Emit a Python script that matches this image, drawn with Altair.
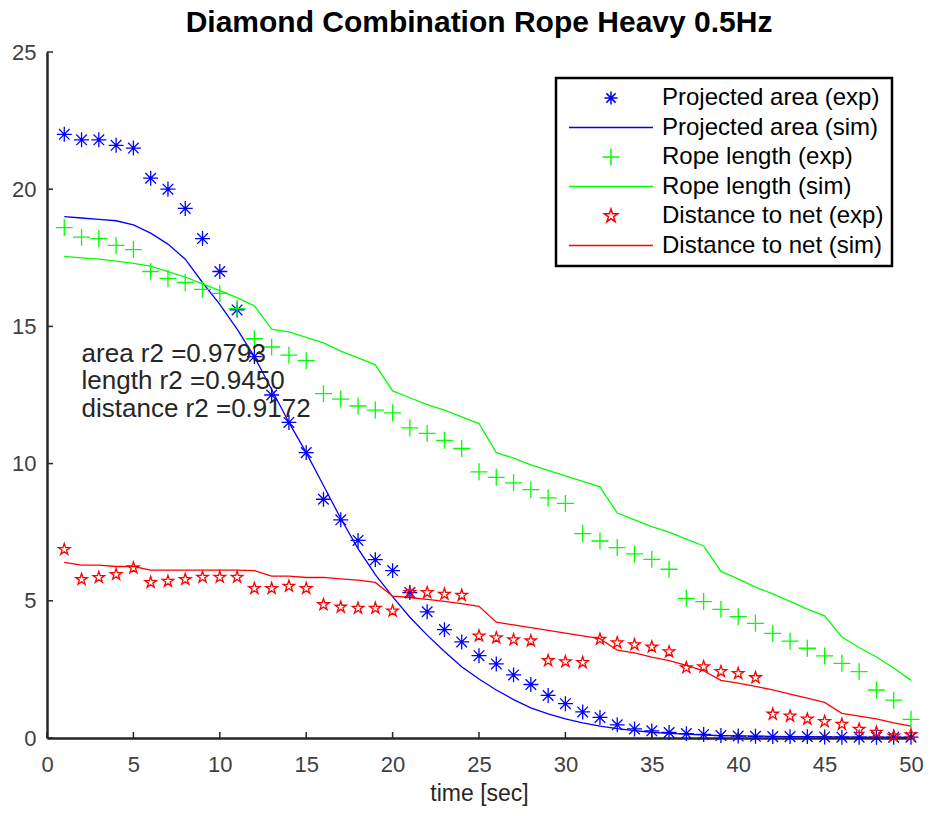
import altair as alt
import pandas as pd

time_s = [1, 2, 3, 4, 5, 6, 7, 8, 9, 10, 11, 12, 13, 14, 15, 16, 17, 18, 19, 20,
          21, 22, 23, 24, 25, 26, 27, 28, 29, 30, 31, 32, 33, 34, 35, 36, 37, 38, 39, 40,
          41, 42, 43, 44, 45, 46, 47, 48, 49, 50]

area_exp = [22.0, 21.8, 21.8, 21.6, 21.5, 20.4, 20.0, 19.3, 18.2, 17.0,
            15.6, 13.9, 12.5, 11.5, 10.4, 8.7, 7.95, 7.2, 6.5, 6.1,
            5.3, 4.6, 3.95, 3.5, 3.0, 2.7, 2.3, 1.95, 1.55, 1.25,
            0.95, 0.75, 0.48, 0.33, 0.26, 0.2, 0.16, 0.13, 0.09, 0.07,
            0.06, 0.05, 0.05, 0.05, 0.04, 0.03, 0.03, 0.03, 0.03, 0.03]
area_sim = [19.0, 18.95, 18.9, 18.85, 18.7, 18.4, 18.0, 17.45, 16.6, 15.8,
            14.9, 13.9, 12.7, 11.5, 10.4, 9.2, 8.0, 6.9, 5.95, 5.15,
            4.4, 3.75, 3.15, 2.6, 2.15, 1.75, 1.4, 1.1, 0.88, 0.7,
            0.55, 0.43, 0.34, 0.27, 0.21, 0.17, 0.14, 0.11, 0.09, 0.08,
            0.07, 0.06, 0.05, 0.05, 0.04, 0.04, 0.03, 0.03, 0.03, 0.02]
length_exp = [18.6, 18.25, 18.2, 17.95, 17.8, 17.0, 16.75, 16.6, 16.35, 16.2,
              15.65, 14.55, 14.25, 13.95, 13.75, 12.55, 12.35, 12.1, 11.95, 11.85,
              11.3, 11.1, 10.85, 10.55, 9.7, 9.5, 9.3, 9.05, 8.75, 8.55,
              7.45, 7.18, 6.94, 6.71, 6.51, 6.15, 5.09, 4.97, 4.69, 4.42,
              4.18, 3.81, 3.53, 3.27, 2.99, 2.72, 2.42, 1.75, 1.38, 0.68]
length_sim = [17.55, 17.5, 17.45, 17.38, 17.3, 17.2, 17.0, 16.8, 16.55, 16.3,
              16.05, 15.75, 14.9, 14.8, 14.6, 14.4, 14.1, 13.85, 13.6, 12.65,
              12.4, 12.15, 11.95, 11.7, 11.46, 10.4, 10.2, 9.95, 9.75, 9.55,
              9.35, 9.15, 8.2, 7.95, 7.7, 7.5, 7.25, 7.0, 6.07, 5.8,
              5.5, 5.25, 4.98, 4.7, 4.45, 3.68, 3.3, 2.95, 2.55, 2.1]
dist_exp = [6.87, 5.78, 5.85, 5.96, 6.2, 5.67, 5.71, 5.78, 5.86, 5.86,
            5.86, 5.45, 5.45, 5.53, 5.45, 4.86, 4.77, 4.73, 4.73, 4.63,
            5.3, 5.3, 5.24, 5.2, 3.72, 3.65, 3.58, 3.54, 2.82, 2.78,
            2.75, 3.6, 3.47, 3.4, 3.32, 3.14, 2.56, 2.6, 2.42, 2.35,
            2.2, 0.87, 0.8, 0.69, 0.6, 0.5, 0.32, 0.21, 0.07, 0.12]
dist_sim = [6.4, 6.3, 6.3, 6.25, 6.25, 6.12, 6.12, 6.12, 6.12, 6.12,
            6.12, 6.1, 5.9, 5.9, 5.85, 5.85, 5.8, 5.75, 5.67, 5.17,
            5.12, 5.05, 4.98, 4.9, 4.8, 4.22, 4.12, 4.02, 3.92, 3.82,
            3.72, 3.62, 3.2, 3.1, 2.95, 2.82, 2.65, 2.45, 2.1, 2.0,
            1.88, 1.75, 1.6, 1.45, 1.3, 0.9, 0.8, 0.7, 0.55, 0.43]

series_names = ["Projected area (exp)", "Projected area (sim)",
                "Rope length (exp)", "Rope length (sim)",
                "Distance to net (exp)", "Distance to net (sim)"]
series_colors = ["#0000ff", "#0000ff", "#00ff00", "#00ff00", "#ff0000", "#ff0000"]

ann_text = ["area r2 =0.9793", "length r2 =0.9450", "distance r2 =0.9172"]
ann_x = [2.0, 2.0, 2.0]
ann_y = [14.0, 13.0, 12.0]

x_ticks = [0, 5, 10, 15, 20, 25, 30, 35, 40, 45, 50]
y_ticks = [0, 5, 10, 15, 20, 25]

# marker glyphs (unit = 1px at symbol size 4)
ASTERISK = "M-6.5,0L6.5,0M0,-6.5L0,6.5M-4.6,-4.6L4.6,4.6M-4.6,4.6L4.6,-4.6"
CROSS = "M-8.5,0L8.5,0M0,-8.5L0,8.5"
STAR = ("M0,-7L1.57,-2.16L6.66,-2.16L2.54,0.83L4.11,5.66L0,2.67L-4.11,5.66"
        "L-2.54,0.83L-6.66,-2.16L-1.57,-2.16Z")
LINE = "M-42,0L42,0"
series_shapes = [ASTERISK, LINE, CROSS, LINE, STAR, LINE]

FONT = "Liberation Sans"
AX = "#262626"

exp_sets = [(series_names[0], area_exp, 5.3), (series_names[2], length_exp, 4.0),
            (series_names[4], dist_exp, 3.0)]
sim_sets = [(series_names[1], area_sim, series_colors[1]),
            (series_names[3], length_sim, series_colors[3]),
            (series_names[5], dist_sim, series_colors[5])]

xs = alt.Scale(domain=[0, 50], nice=False, zero=False)
ys = alt.Scale(domain=[0, 25], nice=False, zero=False)
xaxis = alt.Axis(values=x_ticks, title="time [sec]", ticks=False, tickSize=0, grid=False,
                 labelFlush=False, domainColor=AX, domainWidth=2.5, labelFont=FONT,
                 labelFontSize=22, labelColor="#404040", labelPadding=16, titleFont=FONT,
                 titleFontSize=23, titleFontWeight="normal", titleColor=AX, titlePadding=7)
yaxis = alt.Axis(values=y_ticks, title=None, ticks=False, tickSize=0, grid=False,
                 labelFlush=False, domainColor=AX, domainWidth=2.5, labelFont=FONT,
                 labelFontSize=22, labelColor="#404040", labelPadding=11)

color_scale = alt.Scale(domain=series_names, range=series_colors)
shape_scale = alt.Scale(domain=series_names, range=series_shapes)
legend = alt.Legend(title=None, orient="none", legendX=509, legendY=26,
                    symbolSize=4, symbolStrokeWidth=1.5, symbolOpacity=1,
                    symbolOffset=35,
                    labelFont=FONT, labelFontSize=24, labelColor="#000000",
                    labelOffset=39, rowPadding=5.5, padding=8,
                    strokeColor="#000000", fillColor="#ffffff", labelLimit=400)

sim_rows = []
for name, vals, col in sim_sets:
    for t, v in zip(time_s, vals):
        sim_rows.append({"t": t, "v": v, "series": name, "col": col})
sim_df = pd.DataFrame(sim_rows)

lines = alt.Chart(sim_df).mark_line(strokeWidth=1.3).encode(
    x=alt.X("t:Q", scale=xs, axis=xaxis),
    y=alt.Y("v:Q", scale=ys, axis=yaxis),
    color=alt.Color("col:N", scale=None),
    detail="series:N",
)

point_layers = []
for name, vals, sz in exp_sets:
    df = pd.DataFrame({"t": time_s, "v": vals, "series": name})
    point_layers.append(
        alt.Chart(df).mark_point(filled=False, size=sz, strokeWidth=1.3, opacity=1).encode(
            x=alt.X("t:Q", scale=xs, axis=xaxis),
            y=alt.Y("v:Q", scale=ys, axis=yaxis),
            color=alt.Color("series:N", scale=color_scale, legend=legend),
            shape=alt.Shape("series:N", scale=shape_scale, legend=legend),
        )
    )

xt = alt.Chart(pd.DataFrame({"t": x_ticks})).mark_rule(color=AX, strokeWidth=1.5).encode(
    x=alt.X("t:Q", scale=xs, axis=xaxis), y=alt.value(686), y2=alt.value(680))
yt = alt.Chart(pd.DataFrame({"v": y_ticks})).mark_rule(color=AX, strokeWidth=1.5).encode(
    y=alt.Y("v:Q", scale=ys, axis=yaxis), x=alt.value(0), x2=alt.value(6))

ann = alt.Chart(pd.DataFrame({"t": ann_x, "v": ann_y, "txt": ann_text})).mark_text(
    align="left", baseline="middle", font=FONT, fontSize=26, color="#262626").encode(
    x=alt.X("t:Q", scale=xs, axis=xaxis), y=alt.Y("v:Q", scale=ys, axis=yaxis), text="txt:N")

chart = alt.layer(lines, *point_layers, xt, yt, ann).properties(
    width=864, height=686,
    padding={"left": 39, "top": 44, "right": 13, "bottom": 70},
    autosize=alt.AutoSizeParams(type="none"),
    title=alt.TitleParams("Diamond Combination Rope Heavy 0.5Hz", font=FONT, fontSize=30,
                          fontWeight="bold", color="#000000", anchor="middle", offset=3),
).configure_view(stroke=None).configure_legend(strokeWidth=2.5)

chart.save("out.html", embed_options={"renderer": "svg", "actions": False})
